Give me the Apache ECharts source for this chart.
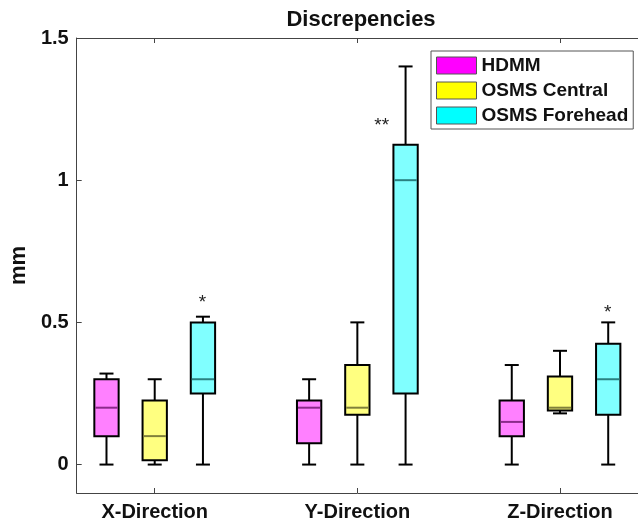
<!DOCTYPE html>
<html>
<head>
<meta charset="utf-8">
<script src="https://cdn.jsdelivr.net/npm/echarts@6/dist/echarts.min.js"></script>
<style>
html,body{margin:0;padding:0;background:#fff;}
#chart{width:638px;height:522px;}
</style>
</head>
<body>
<div id="chart"></div>
<script>
// ---- data ----
const categories = ['X-Direction', 'Y-Direction', 'Z-Direction'];
const seriesNames = ['HDMM', 'OSMS Central', 'OSMS Forehead'];
// each row: [min, q1, median, q3, max]
const hdmm = [
  [0, 0.10, 0.20, 0.30, 0.32],
  [0, 0.075, 0.20, 0.225, 0.30],
  [0, 0.10, 0.15, 0.225, 0.35]
];
const osmsCentral = [
  [0, 0.015, 0.10, 0.225, 0.30],
  [0, 0.175, 0.20, 0.35, 0.50],
  [0.18, 0.19, 0.20, 0.31, 0.40]
];
const osmsForehead = [
  [0, 0.25, 0.30, 0.50, 0.52],
  [0, 0.25, 1.00, 1.125, 1.40],
  [0, 0.175, 0.30, 0.425, 0.50]
];
const yTicks = [0, 0.5, 1, 1.5];
// significance annotations: [x position, y value, text]
const annotations = [
  [1.236, 0.57, '*'],
  [2.12, 1.19, '**'],
  [3.236, 0.535, '*']
];

// ---- styling ----
const FONT = '"Liberation Sans", Arial, Helvetica, sans-serif';
const groupOffsets = [-0.238, 0, 0.238];
const BOX_W = 0.12;
const fills = ['#ff80ff', '#ffff80', '#80ffff'];
const medians = ['#8a2a8a', '#80803a', '#2a8080'];
const legendColors = ['#ff00ff', '#ffff00', '#00ffff'];
const allData = [hdmm, osmsCentral, osmsForehead];

function makeRender(fill, medColor) {
  return function (params, api) {
    const x = api.value(0);
    const pMin = api.coord([x, api.value(1)]);
    const pQ1 = api.coord([x, api.value(2)]);
    const pMed = api.coord([x, api.value(3)]);
    const pQ3 = api.coord([x, api.value(4)]);
    const pMax = api.coord([x, api.value(5)]);
    const cx = pMin[0];
    const hw = api.size([BOX_W, 0])[0] / 2;
    const cap = 7;
    const ls = { stroke: '#000', lineWidth: 2 };
    return {
      type: 'group',
      children: [
        { type: 'line', shape: { x1: cx, y1: pQ3[1], x2: cx, y2: pMax[1] }, style: ls },
        { type: 'line', shape: { x1: cx, y1: pQ1[1], x2: cx, y2: pMin[1] }, style: ls },
        { type: 'line', shape: { x1: cx - cap, y1: pMax[1], x2: cx + cap, y2: pMax[1] }, style: ls },
        { type: 'line', shape: { x1: cx - cap, y1: pMin[1], x2: cx + cap, y2: pMin[1] }, style: ls },
        { type: 'rect', shape: { x: cx - hw, y: pQ3[1], width: 2 * hw, height: pQ1[1] - pQ3[1] },
          style: { fill: fill, stroke: '#000', lineWidth: 2 } },
        { type: 'line', shape: { x1: cx - hw + 1, y1: pMed[1], x2: cx + hw - 1, y2: pMed[1] },
          style: { stroke: medColor, lineWidth: 2 } }
      ]
    };
  };
}

const series = seriesNames.map(function (name, s) {
  return {
    name: name,
    type: 'custom',
    clip: false,
    itemStyle: { color: legendColors[s] },
    renderItem: makeRender(fills[s], medians[s]),
    encode: { x: 0, y: [1, 2, 3, 4, 5] },
    data: allData[s].map(function (row, c) {
      return [c + 1 + groupOffsets[s]].concat(row);
    })
  };
});

series.push({
  type: 'custom',
  clip: false,
  silent: true,
  renderItem: function (params, api) {
    const p = api.coord([api.value(0), api.value(1)]);
    return {
      type: 'text',
      x: p[0], y: p[1],
      style: { text: annotations[params.dataIndex][2], fill: '#222', font: '19px ' + FONT,
               align: 'center', verticalAlign: 'middle' }
    };
  },
  encode: { x: 0, y: 1 },
  data: annotations.map(function (a) { return [a[0], a[1]]; })
});

const chart = echarts.init(document.getElementById('chart'), null, { renderer: 'canvas' });
const axisLineStyle = { color: '#444', width: 1 };
chart.setOption({
  animation: false,
  backgroundColor: '#fff',
  title: {
    text: 'Discrepencies',
    left: 361, top: 9, padding: 0,
    textAlign: 'center',
    textStyle: { fontFamily: FONT, fontSize: 22, fontWeight: 'bold', color: '#111' }
  },
  legend: {
    orient: 'vertical',
    left: 431, top: 51,
    padding: [5, 5, 4, 5],
    itemGap: 6,
    itemWidth: 40, itemHeight: 17,
    icon: 'rect',
    borderColor: '#555', borderWidth: 1, backgroundColor: '#fff',
    textStyle: { fontFamily: FONT, fontSize: 19, fontWeight: 'bold', color: '#111' },
    data: seriesNames.map(function (n, i) {
      return { name: n, itemStyle: { color: legendColors[i], borderColor: '#555', borderWidth: 1 } };
    })
  },
  grid: { left: 73, top: 38, width: 576, height: 455 },
  xAxis: [
    {
      type: 'value', min: 0.615, max: 3.385, position: 'bottom',
      axisLine: { show: true, onZero: false, lineStyle: axisLineStyle },
      splitLine: { show: false },
      axisTick: { show: true, inside: true, length: 5, lineStyle: axisLineStyle, customValues: [1, 2, 3] },
      axisLabel: {
        customValues: [1, 2, 3], margin: 9,
        formatter: function (v) { return categories[Math.round(v) - 1] || ''; },
        fontFamily: FONT, fontSize: 20, fontWeight: 'bold', color: '#111'
      }
    },
    {
      type: 'value', min: 0.615, max: 3.385, position: 'top',
      axisLine: { show: true, onZero: false, lineStyle: axisLineStyle },
      splitLine: { show: false },
      axisTick: { show: true, inside: true, length: 5, lineStyle: axisLineStyle, customValues: [1, 2, 3] },
      axisLabel: { show: false }
    }
  ],
  yAxis: {
    type: 'value', min: -0.1, max: 1.5,
    name: 'mm', nameLocation: 'middle', nameGap: 46, nameRotate: 90,
    nameTextStyle: { fontFamily: FONT, fontSize: 22, fontWeight: 'bold', color: '#111' },
    axisLine: { show: true, onZero: false, lineStyle: axisLineStyle },
    splitLine: { show: false },
    axisTick: { show: true, inside: true, length: 5, lineStyle: axisLineStyle, customValues: yTicks },
    axisLabel: {
      customValues: yTicks, margin: 8,
      formatter: function (v) { return String(v); },
      fontFamily: FONT, fontSize: 20, fontWeight: 'bold', color: '#111'
    }
  },
  series: series
});
</script>
</body>
</html>
